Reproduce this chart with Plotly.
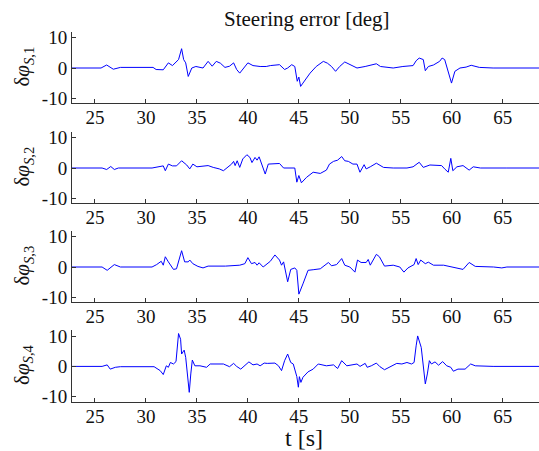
import plotly.graph_objects as go

# ---- data ----
t1 = [22.75, 25.6, 26.15, 26.8, 27.5, 30.7, 31.0, 31.7, 32.2, 32.6, 33.2, 33.5, 33.7, 33.9, 34.15, 34.5, 34.9,
      35.6, 36.1, 36.5, 36.9, 37.3, 37.75, 38.2, 38.6, 38.9, 39.2, 39.7, 40.0, 40.5, 41.2, 41.8, 42.2, 43.1, 43.6,
      43.9, 44.3, 44.6, 44.84, 45.0, 45.17, 45.4, 46.1, 46.7, 47.4, 47.8, 48.2, 48.6, 49.0, 49.5, 50.0, 50.7,
      51.5, 52.6, 53.0, 54.25, 55.2, 56.2, 56.5, 56.8, 57.2, 57.4, 57.7, 58.2, 58.8, 59.05, 59.3, 59.6, 59.97,
      60.3, 60.8, 61.4, 61.9, 62.7, 64.05, 68.55]
v1 = [0, 0, 1.0, -0.4, 0.2, 0.2, -0.5, -0.6, 1.7, 0.8, 2.8, 6.4, 2.8, 1.7, -2.8, 0, 0.5,
      0, 2.2, 0.6, 2.2, 1.6, 0.2, 0.6, 1.7, -0.5, -1.7, 0.5, 1.7, 0.8, 0.5, 0.5, 0.8, 1.1, -0.5,
      0.0, 1.1, 0.5, -4.4, -3.0, -6.1, -5.0, -1.7, 0.5, 2.2, 1.6, 0.5, -1.1, 0.5, 2.0, 1.1, 0,
      0.5, 1.4, 0.5, 0, 0.5, 0.8, 2.4, 3.3, 2.8, -0.9, 0.5, 1.0, 2.2, 3.3, 2.8, -1.1, -5.0,
      -1.1, 0, 0.3, 0.9, 0.2, 0, 0]

t2 = [22.75, 25.7, 26.15, 26.55, 26.9, 27.3, 30.6, 31.25, 31.7, 31.9, 32.2, 32.6, 33.0, 33.5, 34.0, 34.3, 34.6,
      35.0, 36.1, 36.6, 37.2, 37.6, 38.0, 38.4, 38.6, 38.75, 38.95, 39.2, 39.5, 39.9, 40.2, 40.4, 40.7, 40.9,
      41.1, 41.35, 41.7, 42.0, 42.5, 43.1, 43.5, 44.0, 44.6, 44.8, 45.0, 45.25, 45.75, 46.4, 47.1, 47.7, 48.0,
      48.4, 48.8, 49.2, 49.5, 49.85, 50.3, 50.7, 50.99, 51.4, 51.6, 52.0, 52.6, 53.3, 54.25, 55.6, 56.2, 56.8,
      57.2, 57.85, 58.5, 59.0, 59.3, 59.65, 59.9, 60.1, 60.5, 61.1, 61.7, 62.1, 62.8, 64.9, 65.4, 68.55]
v2 = [0, 0, -0.5, 0.5, -0.5, 0, 0, 0.4, 0.7, -0.9, 1.3, 0.7, 0.7, 2.4, 1.0, -0.3, 1.3,
      0.4, 0.8, 0.2, -0.3, -0.9, 0.2, 1.3, 2.2, 0.8, 2.4, 0.2, 3.0, 4.4, 3.5, 1.8, 3.5, 2.6,
      3.7, 1.3, -2.0, 1.3, 1.5, 1.5, 0, 0.1, 0, -4.7, -2.5, -4.9, -3.1, -1.4, -1.8, -0.7, 1.3,
      2.2, 2.6, 3.8, 2.4, 2.2, 1.3, 1.3, -1.4, 1.1, -0.3, 0.4, 1.6, 0.2, 0, 0, 0.4, 1.9,
      0.2, 1.0, 0.8, 0.8, -0.3, -1.4, 3.2, -0.9, 0.4, 0.8, -0.7, 0.4, 0, 0.2, 0, 0]

t3 = [22.75, 25.7, 26.2, 26.9, 27.5, 30.6, 31.05, 31.5, 31.7, 31.9, 32.2, 32.7, 33.0, 33.5, 33.8, 34.15, 34.3,
      34.6, 35.1, 35.6, 36.1, 37.8, 39.2, 39.7, 40.0, 40.35, 40.7, 40.9, 41.1, 41.5, 42.2, 42.65, 43.1, 43.3,
      43.5, 43.9, 44.2, 44.6, 44.8, 45.0, 45.4, 45.9, 46.4, 47.1, 47.9, 48.2, 48.7, 49.2, 49.5, 50.0, 50.5,
      50.75, 51.1, 51.6, 51.8, 52.0, 52.6, 52.9, 53.4, 54.25, 54.9, 55.3, 55.7, 56.3, 56.5, 56.7, 56.95, 57.4,
      57.7, 58.2, 59.2, 60.0, 60.5, 61.1, 61.7, 62.3, 64.1, 64.9, 65.4, 68.55]
v3 = [0, 0, -1.1, 0.8, 0, 0, 0.8, 1.9, 0.6, 3.4, 1.7, -0.8, -0.6, 5.4, 1.7, 1.7, 2.3,
      1.1, 0.2, -0.3, 0.3, 0.3, 0.6, 1.1, 3.1, 1.1, 1.5, 0.6, 1.4, 0, 1.9, 4.0, 2.3, 0.6,
      1.7, -4.9, -0.8, -0.3, -1.1, -9.0, -5.6, -1.1, -0.9, -0.6, 1.5, 0.4, 0.8, 2.8, 0.6, 0, -1.7,
      2.3, 1.5, 1.5, 2.5, 0.6, 4.2, 3.4, 0.3, 0.6, 0, -1.7, -0.3, 0.8, 2.8, 0.8, 2.3, 1.1,
      1.6, 0.6, 0.6, 0, -0.6, -0.8, 1.5, 0.2, 0, -0.3, 0, 0]

t4 = [22.75, 25.7, 26.2, 26.5, 27.0, 27.5, 30.8, 31.4, 31.7, 32.0, 32.2, 32.4, 32.7, 32.95, 33.2, 33.4, 33.5,
      33.75, 33.9, 34.1, 34.25, 34.4, 34.55, 34.8, 35.3, 35.95, 36.3, 37.6, 38.2, 38.6, 38.9, 39.3, 39.7, 40.1,
      40.5, 40.9, 41.2, 41.6, 41.9, 42.65, 43.0, 43.3, 43.6, 43.9, 44.2, 44.45, 44.8, 44.95, 45.05, 45.2,
      45.4, 45.9, 46.4, 46.9, 47.7, 48.4, 48.8, 49.2, 49.7, 50.7, 51.0, 51.5, 51.7, 52.1, 52.6, 52.95, 53.4,
      54.1, 54.6, 55.1, 55.6, 56.05, 56.3, 56.5, 56.65, 57.0, 57.2, 57.4, 57.6, 57.8, 58.0, 58.35, 58.7, 59.1,
      59.5, 59.9, 60.15, 60.6, 61.3, 61.85, 62.3, 64.05, 68.55]
v4 = [0, 0, 0.5, -0.9, -0.3, -0.1, -0.1, -1.4, -2.7, 0.2, -0.3, 1.3, 0.8, 1.6, 10.9, 9.0, 4.1,
      5.4, 3.0, -4.2, -8.6, -2.5, 2.1, 0.2, 0.2, -0.3, 0.8, 0.8, -0.1, 1.0, 0, -0.9, 0.4, 1.5,
      0.5, 0.8, 0.2, 1.1, 1.0, 1.1, 0.2, -1.4, 1.9, 4.1, 1.3, 0.8, -3.4, -6.9, -3.4, -5.3,
      -3.6, -1.8, -0.9, 0.8, 0.2, 0.5, -0.7, 1.9, 0.2, 0.8, 0, 1.0, -0.3, 0.2, 1.1, -0.1, -1.1,
      0.2, 1.0, 0.8, 1.3, 0.8, 1.3, 6.8, 10.1, 6.3, 0.8, -5.8, -2.5, 1.9, 0.8, 1.5, 0.4, 1.6,
      0.2, -0.3, -1.6, -0.9, -0.9, 0.8, 0.2, 0, 0]

series = [(t1, v1), (t2, v2), (t3, v3), (t4, v4)]
y_labels = ["δ<i>φ</i><sub><i>S</i>,1</sub>", "δ<i>φ</i><sub><i>S</i>,2</sub>",
            "δ<i>φ</i><sub><i>S</i>,3</sub>", "δ<i>φ</i><sub><i>S</i>,4</sub>"]
x_ticks = [25, 30, 35, 40, 45, 50, 55, 60, 65]
y_ticks = [-10, 0, 10]
y_ticktext = ["-10", "0", "10"]
title_text = "Steering error [deg]"
x_title = "t [s]"

# ---- layout ----
W, H = 539, 451
FONT = "Liberation Serif"
bottoms_px = [103.3, 203.3, 302.3, 401.7]
height_px = 71.5
PW = W - 72

fig = go.Figure()
for i, (t, v) in enumerate(series):
    n = "" if i == 0 else str(i + 1)
    fig.add_trace(go.Scatter(x=t, y=v, mode="lines", line=dict(color="#0000ff", width=1),
                             xaxis="x" + n, yaxis="y" + n, showlegend=False, hoverinfo="skip"))
    b = bottoms_px[i]
    dom = [1 - b / H, 1 - (b - height_px) / H]
    fig.layout["xaxis" + n] = dict(domain=[0, 1], range=[22.75, 68.55], anchor="y" + n,
                                  tickvals=x_ticks, ticks="inside", ticklen=4, tickcolor="#333",
                                  showline=True, linecolor="#333", linewidth=1, showgrid=False,
                                  zeroline=False, tickfont=dict(family=FONT, size=19, color="#111"),
                                  ticklabelstandoff=-3,
                                  fixedrange=True, automargin=False)
    fig.layout["yaxis" + n] = dict(domain=dom, range=[-11.7, 12], anchor="x" + n,
                                  tickvals=y_ticks, ticktext=y_ticktext, ticks="inside", ticklen=4,
                                  tickcolor="#333", showline=True, linecolor="#333", linewidth=1,
                                  showgrid=False, zeroline=False,
                                  tickfont=dict(family=FONT, size=19, color="#111"), fixedrange=True,
                                  automargin=False)
    fig.add_annotation(text=y_labels[i], xref="paper", yref="paper",
                       x=(23 - 72) / PW, y=1 - (b - height_px / 2 - 1) / H,
                       textangle=-90, showarrow=False, xanchor="center", yanchor="middle",
                       font=dict(family=FONT, size=21, color="#111"))

fig.add_annotation(text=title_text, xref="paper", yref="paper", x=(307 - 72) / PW, y=1 - 19 / H,
                   showarrow=False, xanchor="center", yanchor="middle",
                   font=dict(family=FONT, size=21, color="#111"))
fig.add_annotation(text=x_title, xref="paper", yref="paper", x=(304 - 72) / PW, y=1 - 438 / H,
                   showarrow=False, xanchor="center", yanchor="middle",
                   font=dict(family=FONT, size=24, color="#111"))

fig.update_layout(width=W, height=H, margin=dict(l=72, r=0, t=0, b=0, autoexpand=False),
                  paper_bgcolor="white", plot_bgcolor="white",
                  font=dict(family=FONT))
fig.write_html("out.html", config={"displayModeBar": False},
               post_script="document.body.style.margin='0';document.body.style.overflow='hidden';")
